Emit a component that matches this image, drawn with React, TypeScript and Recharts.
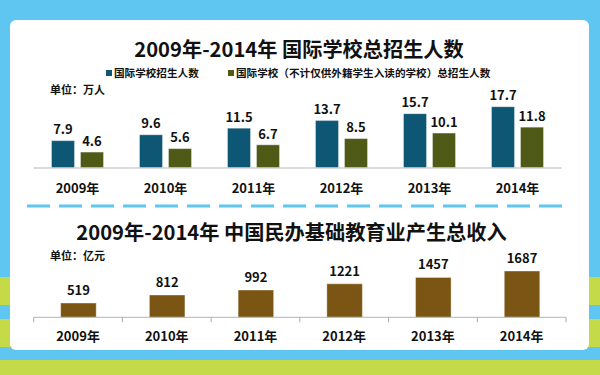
import React from 'react';
import { BarChart, Bar, XAxis, YAxis, LabelList, Legend } from 'recharts';

const years = ['2009年', '2010年', '2011年', '2012年', '2013年', '2014年'];
const intlSchoolEnrollment = [7.9, 9.6, 11.5, 13.7, 15.7, 17.7];
const intlSchoolExclForeignEnrollment = [4.6, 5.6, 6.7, 8.5, 10.1, 11.8];
const privateEduRevenue = [519, 812, 992, 1221, 1457, 1687];
const seriesNames = ['国际学校招生人数', '国际学校（不计仅供外籍学生入读的学校）总招生人数'];
const topTitle = '2009年-2014年 国际学校总招生人数';
const bottomTitle = '2009年-2014年 中国民办基础教育业产生总收入';
const topUnit = '单位：万人';
const bottomUnit = '单位：亿元';

const topData = years.map((y, i) => ({
  year: y,
  a: intlSchoolEnrollment[i],
  b: intlSchoolExclForeignEnrollment[i],
}));
const bottomData = years.map((y, i) => ({ year: y, v: privateEduRevenue[i] }));

const FONT = "'Noto Sans CJK SC', 'Noto Sans', sans-serif";
const BLUE = '#0D5674';
const OLIVE = '#4F5A17';
const BROWN = '#7A5513';
const SKY = '#5EC6F1';
const LIME = '#C5DA48';

const makeValueLabel = (lift: number) => (props: any) => {
  const { x, y, width, value } = props;
  return (
    <text
      x={Number(x) + Number(width) / 2}
      y={Number(y) - lift}
      textAnchor="middle"
      fontFamily={FONT}
      fontWeight={700}
      fontSize={13}
      fill="#111"
    >
      {value}
    </text>
  );
};

const makeTick = (edges: boolean, drop: number) => (props: any) => {
  const { x, y, payload, index, visibleTicksCount } = props;
  const off = Number(payload?.offset ?? 44);
  return (
    <g>
      {edges && <line x1={x - off} x2={x - off} y1={y} y2={y + 5} stroke="#a8a8a8" strokeWidth={1} />}
      {edges && index === visibleTicksCount - 1 && (
        <line x1={x + off} x2={x + off} y1={y} y2={y + 5} stroke="#a8a8a8" strokeWidth={1} />
      )}
      <text x={x} y={y + drop} textAnchor="middle" fontFamily={FONT} fontWeight={700} fontSize={13} fill="#111">
        {payload.value}
      </text>
    </g>
  );
};

const legendLefts = [106, 228];
const renderLegend = (props: any) => {
  const items = props.payload || [];
  return (
    <div style={{ position: 'relative', height: 17, width: 600 }}>
      {items.map((it: any, i: number) => (
        <div
          key={i}
          style={{
            position: 'absolute',
            left: legendLefts[i],
            top: 0,
            height: 17,
            lineHeight: '17px',
            display: 'flex',
            alignItems: 'center',
            whiteSpace: 'nowrap',
            fontFamily: FONT,
            fontWeight: 700,
            fontSize: 10.6,
            color: '#111',
          }}
        >
          <span style={{ display: 'inline-block', width: 6, height: 6, background: it.color, marginRight: 2 }} />
          <span>{it.value}</span>
        </div>
      ))}
    </div>
  );
};

const textStyle: React.CSSProperties = {
  position: 'absolute',
  fontFamily: FONT,
  fontWeight: 700,
  color: '#111',
  whiteSpace: 'nowrap',
};

export default function App() {
  return (
    <div style={{ position: 'absolute', left: 0, top: 0, width: 600, height: 375, overflow: 'hidden', background: SKY }}>
      {/* background stripes */}
      <div style={{ position: 'absolute', left: 0, top: 277, width: 600, height: 28, background: LIME }} />
      <div style={{ position: 'absolute', left: 0, top: 319, width: 600, height: 28, background: LIME }} />
      <div style={{ position: 'absolute', left: 0, top: 360, width: 600, height: 15, background: LIME }} />
      {/* white panel */}
      <div style={{ position: 'absolute', left: 10, top: 20, width: 579, height: 330, background: '#fff', borderRadius: 6 }} />

      <div style={{ ...textStyle, left: 0, width: 598, top: 34.7, height: 28, lineHeight: '28px', fontSize: 20.2, textAlign: 'center' }}>
        {topTitle}
      </div>
      <div style={{ ...textStyle, left: 50, top: 80.5, height: 17, lineHeight: '17px', fontSize: 11 }}>{topUnit}</div>

      <div style={{ position: 'absolute', left: 0, top: 0 }}>
        <BarChart
          width={600}
          height={200}
          data={topData}
          margin={{ top: 98.8, right: 38.5, bottom: 2, left: 33.5 }}
          barSize={23}
          barGap={6}
        >
          <XAxis
            dataKey="year"
            height={30}
            interval={0}
            axisLine={{ stroke: '#cfcfcf', strokeWidth: 1.5 }}
            tickLine={false}
            tickSize={0}
            tickMargin={0}
            tick={makeTick(false, 25)}
          />
          <YAxis hide domain={[0, 20]} />
          <Legend
            layout="horizontal"
            verticalAlign="middle"
            align="center"
            wrapperStyle={{ top: 64, left: 0, width: 600, height: 17 }}
            content={renderLegend}
          />
          <Bar dataKey="a" name={seriesNames[0]} fill={BLUE} stroke="rgba(255,255,255,0.35)" isAnimationActive={false}>
            <LabelList dataKey="a" content={makeValueLabel(6.3)} />
          </Bar>
          <Bar dataKey="b" name={seriesNames[1]} fill={OLIVE} stroke="rgba(255,255,255,0.35)" isAnimationActive={false}>
            <LabelList dataKey="b" content={makeValueLabel(6.3)} />
          </Bar>
        </BarChart>
      </div>

      <svg style={{ position: 'absolute', left: 0, top: 201 }} width={600} height={10}>
        <line x1={27} x2={570} y1={5} y2={5} stroke={SKY} strokeWidth={3} strokeDasharray="23 9" />
      </svg>

      <div style={{ ...textStyle, left: 0, width: 583, top: 218, height: 28, lineHeight: '28px', fontSize: 20.2, textAlign: 'center' }}>
        {bottomTitle}
      </div>
      <div style={{ ...textStyle, left: 50, top: 246.5, height: 17, lineHeight: '17px', fontSize: 11 }}>{bottomUnit}</div>

      <div style={{ position: 'absolute', left: 0, top: 200 }}>
        <BarChart
          width={600}
          height={150}
          data={bottomData}
          margin={{ top: 62.5, right: 34, bottom: 2.7, left: 33.7 }}
          barSize={35.5}
        >
          <XAxis
            dataKey="year"
            height={30}
            interval={0}
            axisLine={{ stroke: '#b4b4b4', strokeWidth: 1 }}
            tickLine={false}
            tickSize={0}
            tickMargin={0}
            tick={makeTick(true, 24)}
          />
          <YAxis hide domain={[0, 2000]} />
          <Bar dataKey="v" fill={BROWN} stroke="rgba(255,255,255,0.35)" isAnimationActive={false}>
            <LabelList dataKey="v" content={makeValueLabel(8)} />
          </Bar>
        </BarChart>
      </div>
    </div>
  );
}
